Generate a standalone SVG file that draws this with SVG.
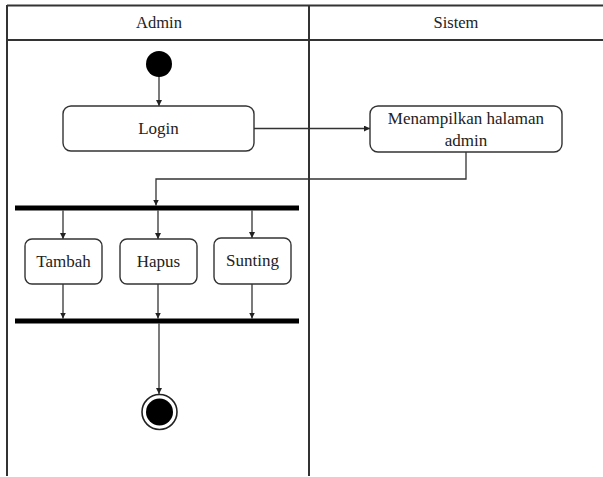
<svg xmlns="http://www.w3.org/2000/svg" width="603" height="477" viewBox="0 0 603 477">
  <style>
    .lane { stroke: #333; stroke-width: 2; fill: none; }
    .act { fill: #fff; stroke: #333; stroke-width: 1.4; }
    .bar { fill: #000; }
    .lbl { font-family: "Liberation Serif", "Times New Roman", serif; font-size: 17px; fill: #222; text-anchor: middle; }
    .hdr { font-family: "Liberation Serif", "Times New Roman", serif; font-size: 16.5px; fill: #222; text-anchor: middle; }
    .flow { stroke: #333; stroke-width: 1.3; fill: none; marker-end: url(#arrow); }
  </style>
  <defs>
    <marker id="arrow" viewBox="0 0 8 8" refX="8" refY="4" markerWidth="6" markerHeight="6" markerUnits="userSpaceOnUse" orient="auto">
      <path d="M0,0 L8,4 L0,8 Z" fill="#222"/>
    </marker>
  </defs>

  <rect width="603" height="477" fill="#fff"/>

  <!-- swimlanes -->
  <g id="lanes">
    <line class="lane" x1="7" y1="5.5" x2="603" y2="5.5"/>
    <line class="lane" x1="7" y1="40" x2="603" y2="40"/>
    <line class="lane" x1="7" y1="5" x2="7" y2="476"/>
    <line class="lane" x1="309" y1="5" x2="309" y2="476"/>
    <text class="hdr" x="159" y="28">Admin</text>
    <text class="hdr" x="456" y="28">Sistem</text>
  </g>

  <!-- connectors -->
  <g id="connectors">
    <line class="flow" x1="159" y1="75" x2="159" y2="106"/>
    <line class="flow" x1="254" y1="128.5" x2="370" y2="128.5"/>
    <polyline class="flow" points="466,152 466,179 156,179 156,205.5"/>
    <line class="flow" x1="63" y1="210.5" x2="63" y2="239"/>
    <line class="flow" x1="158" y1="210.5" x2="158" y2="239"/>
    <line class="flow" x1="252" y1="210.5" x2="252" y2="238"/>
    <line class="flow" x1="63" y1="284" x2="63" y2="318.5"/>
    <line class="flow" x1="158" y1="284" x2="158" y2="318.5"/>
    <line class="flow" x1="252" y1="284" x2="252" y2="318.5"/>
    <line class="flow" x1="159" y1="323.5" x2="159" y2="394"/>
  </g>

  <!-- nodes -->
  <g id="start">
    <circle cx="159" cy="64" r="13" fill="#000"/>
  </g>
  <g id="login">
    <rect class="act" x="63" y="106" width="191" height="45" rx="8"/>
    <text class="lbl" x="158.5" y="134">Login</text>
  </g>
  <g id="menampilkan">
    <rect class="act" x="370" y="106" width="192" height="46" rx="8"/>
    <text class="lbl" x="466" y="124">Menampilkan halaman</text>
    <text class="lbl" x="466" y="146">admin</text>
  </g>
  <g id="fork">
    <rect class="bar" x="15" y="205.5" width="284" height="5"/>
  </g>
  <g id="tambah">
    <rect class="act" x="25" y="239" width="77" height="45" rx="7"/>
    <text class="lbl" x="63.5" y="267">Tambah</text>
  </g>
  <g id="hapus">
    <rect class="act" x="120" y="239" width="77" height="45" rx="7"/>
    <text class="lbl" x="158.5" y="267">Hapus</text>
  </g>
  <g id="sunting">
    <rect class="act" x="214" y="238" width="77" height="46" rx="7"/>
    <text class="lbl" x="252.5" y="266">Sunting</text>
  </g>
  <g id="join">
    <rect class="bar" x="15" y="318.5" width="284" height="5"/>
  </g>
  <g id="end">
    <circle cx="159.5" cy="412" r="17.5" fill="#fff" stroke="#222" stroke-width="1.6"/>
    <circle cx="159.5" cy="412" r="13.5" fill="#000"/>
  </g>
</svg>
